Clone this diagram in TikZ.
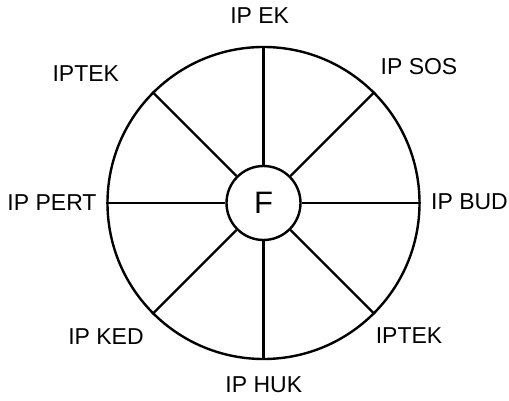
\documentclass[tikz,border=0pt]{standalone}
\usepackage{fontspec}
\setmainfont{Liberation Sans}
\begin{document}
\begin{tikzpicture}[x=1pt,y=-1pt,
  ring/.style={draw=black,line width=2.4pt},
  spoke/.style={draw=black,line width=2.4pt},
  lbl/.style={inner sep=0pt,anchor=center,font=\fontsize{23}{27}\selectfont,text=black}]
\useasboundingbox[fill=white] (0,0) rectangle (509,401);
\coordinate (c) at (263.5,203);
\node[ring,circle,minimum size=312pt,inner sep=0pt] (big) at (c) {};
\node[ring,circle,minimum size=74pt,inner sep=0pt,font=\fontsize{31}{36}\selectfont] (hub) at (c) {F};
\foreach \a in {0,45,...,315}{
  \draw[spoke] (hub.\a) -- (big.\a);
}
\node[lbl] (ek) at (259.7,15.8) {IP EK};
\node[lbl] (sos) at (419,67) {IP SOS};
\node[lbl] (bud) at (469.5,202) {IP BUD};
\node[lbl] (iptek2) at (409,335.5) {IPTEK};
\node[lbl] (huk) at (263.8,385) {IP HUK};
\node[lbl] (ked) at (106,336.3) {IP KED};
\node[lbl] (pert) at (52,203) {IP PERT};
\node[lbl] (iptek1) at (85.8,73.8) {IPTEK};
\end{tikzpicture}
\end{document}
